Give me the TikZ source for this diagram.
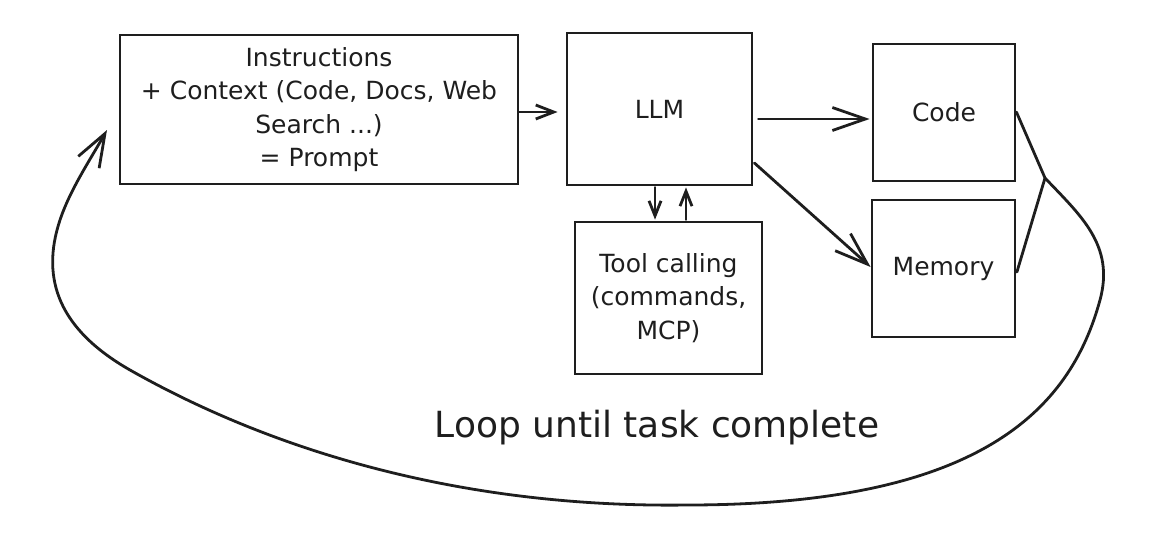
\documentclass[tikz,border=0pt]{standalone}
\usepackage{fontspec}
\setmainfont{DejaVu Sans}
\usetikzlibrary{arrows.meta,calc}
\definecolor{ink}{HTML}{1E1E1E}
\begin{document}
\begin{tikzpicture}[x=1pt,y=-1pt,
  box/.style={draw=ink,line width=2.8pt,inner sep=0pt,align=center,
    font=\fontsize{25}{33.5}\selectfont,text=ink},
  link/.style={draw=ink,line width=2.8pt,line cap=round,line join=round},
  bigarr/.style={link,-{Straight Barb[length=33pt,width=23pt]}},
  midarr/.style={link,-{Straight Barb[length=18pt,width=14pt]}},
  smallarr/.style={link,-{Straight Barb[length=15pt,width=12pt]}}]
\useasboundingbox (0,0) rectangle (1161,544);

\node[box,minimum width=398pt,minimum height=149pt] (instr) at (319,109.5)
  {Instructions\\+ Context (Code, Docs, Web\\Search ...)\\= Prompt};
\node[box,minimum width=185pt,minimum height=152pt] (llm) at (659.5,109) {LLM};
\node[box,minimum width=142pt,minimum height=137pt] (code) at (944,112.5) {Code};
\node[box,minimum width=143pt,minimum height=137pt] (memory) at (943.5,268.5) {Memory};
\node[box,minimum width=187pt,minimum height=152pt] (tool) at (668.5,298)
  {Tool calling\\(commands,\\MCP)};

\node[text=ink,font=\fontsize{36}{42}\selectfont,anchor=base] (loop) at (657,437)
  {Loop until task complete};

% arrows
\draw[midarr] ($(instr.east)+(0,2.5)$) -- ($(llm.west)+(-8,3)$);
\draw[bigarr] ($(llm.east)+(5,10)$) -- ($(code.west)+(-2,6.5)$);
\draw[bigarr] ($(llm.east)+(1,54)$) -- ($(memory.west)+(0,-1.5)$);
\draw[smallarr] ($(llm.south)+(-4.5,1)$) -- ($(tool.north)+(-13.5,-1)$);
\draw[smallarr] ($(tool.north)+(17.5,-1)$) -- ($(llm.south)+(26.5,1)$);

% merge + loop back
\coordinate (j) at (1045,178);
\coordinate (looptip) at (107,130);
\draw[link] ($(code.east)+(0,-0.5)$) -- (j);
\draw[link] ($(memory.east)+(0.5,3.5)$) -- (j);
\draw[link,-{Straight Barb[length=33pt,width=24pt]}]
  (j) .. controls (1080,215) and (1115,245) .. (1100,300)
      .. controls (1070,410) and (980,505) .. (687,505)
      .. controls (470,508) and (280,455) .. (130,370)
      .. controls (60,330) and (40,280) .. (60,220)
      .. controls (70,190) and (90,160) .. (looptip);
\end{tikzpicture}
\end{document}
